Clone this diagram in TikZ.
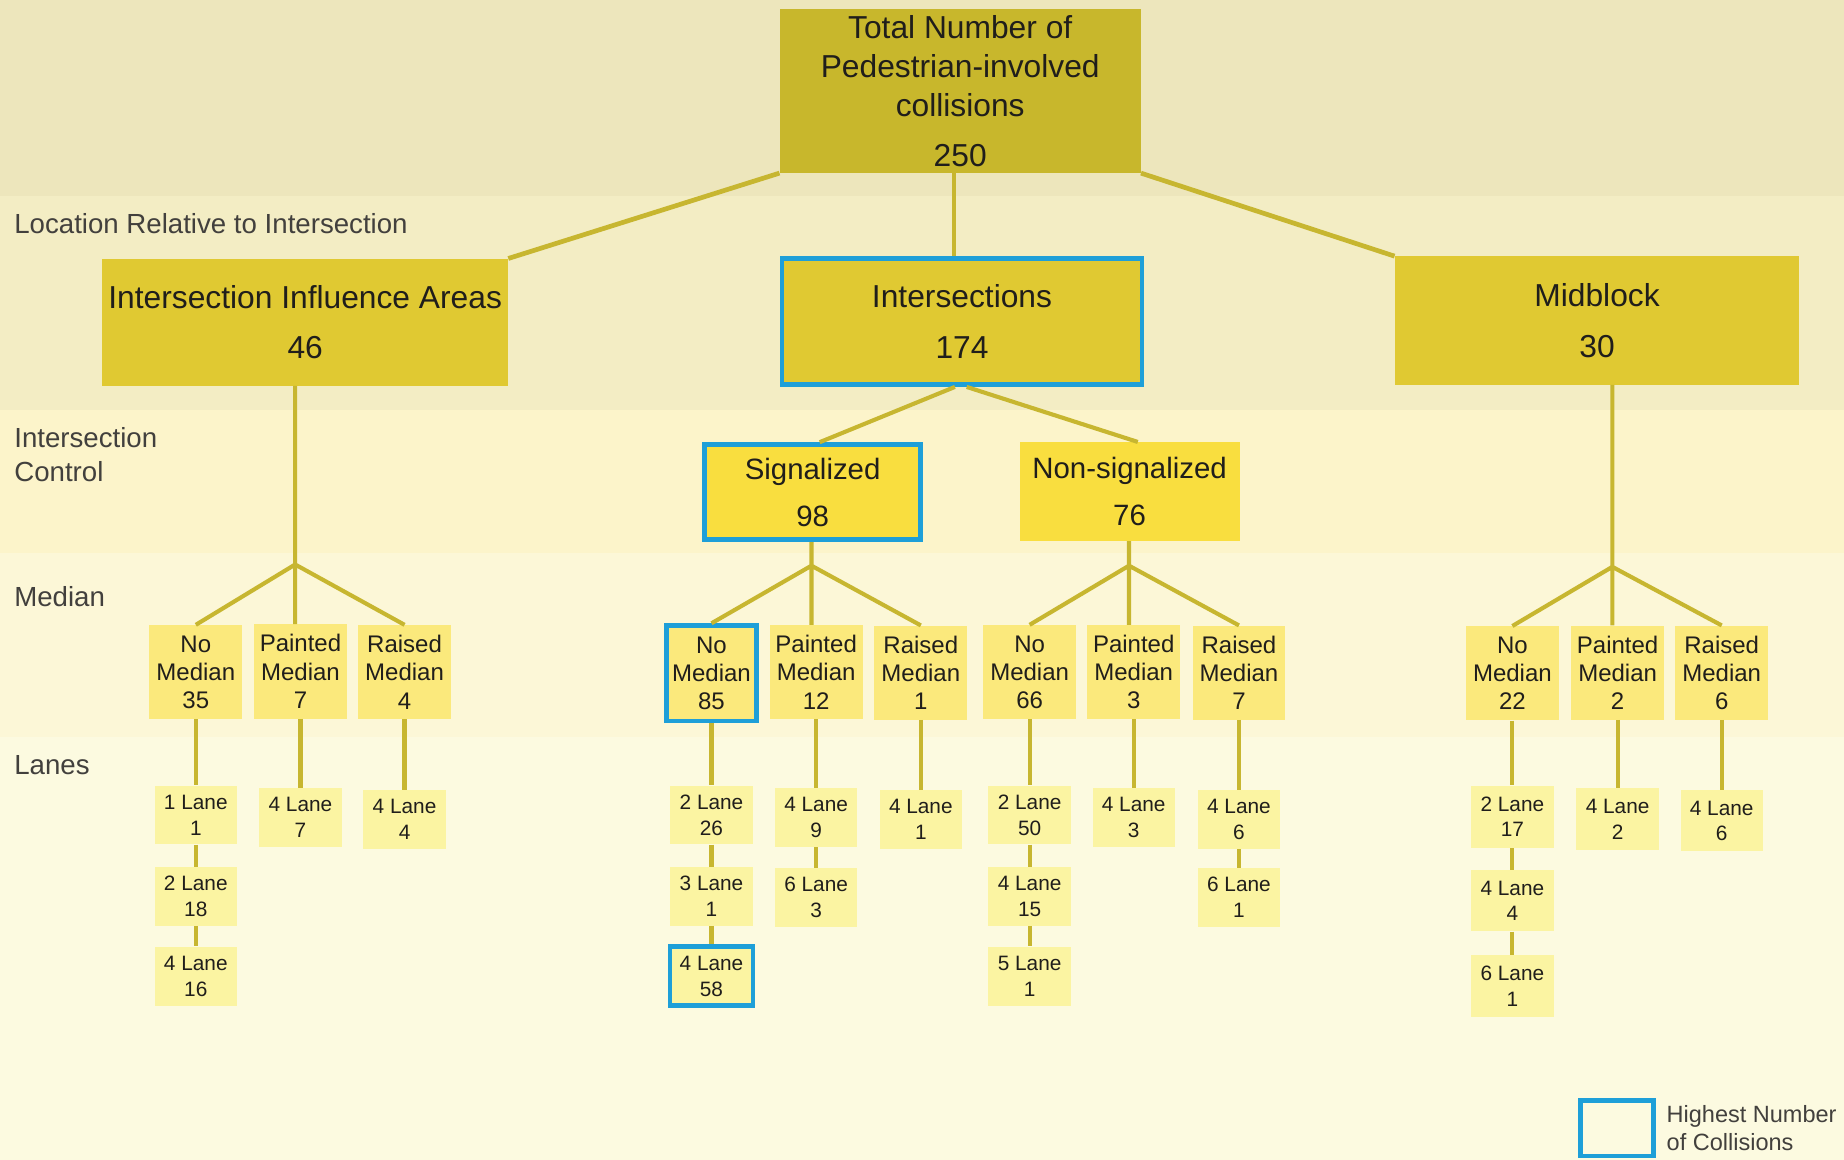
\documentclass[tikz,border=0pt]{standalone}
\usepackage{fontspec}
\setmainfont{Liberation Sans}
\usepackage{xcolor}
\usetikzlibrary{positioning}

\definecolor{bandA}{HTML}{EDE6BC}
\definecolor{bandB}{HTML}{F3EDC4}
\definecolor{bandC}{HTML}{FCF4CA}
\definecolor{bandD}{HTML}{FCF7D7}
\definecolor{bandE}{HTML}{FCFAE0}
\definecolor{totalfill}{HTML}{C8B72C}
\definecolor{locfill}{HTML}{E0C932}
\definecolor{ctrlfill}{HTML}{F9DE3F}
\definecolor{medfill}{HTML}{FBE97C}
\definecolor{lanefill}{HTML}{FBF4A2}
\definecolor{branchcol}{HTML}{C7B630}
\definecolor{highlight}{HTML}{1E9FD8}
\definecolor{ink}{HTML}{201E1B}

\begin{document}
\begin{tikzpicture}[x=1pt, y=-1pt,
		box/.style={rectangle, inner sep=0pt, align=center, text=ink},
		total/.style={box, fill=totalfill, minimum width=307pt, minimum height=139pt, font=\fontsize{27}{33}\selectfont},
		location/.style={box, fill=locfill, minimum height=108pt, font=\fontsize{27}{43}\selectfont},
		control/.style={box, fill=ctrlfill, minimum width=187pt, minimum height=84pt, font=\fontsize{25}{40}\selectfont},
		median/.style={box, fill=medfill, minimum width=79pt, minimum height=80pt, font=\fontsize{20.4}{24}\selectfont},
		lane/.style={box, fill=lanefill, minimum width=70pt, minimum height=50pt, font=\fontsize{17.7}{22}\selectfont},
		most/.style={draw=highlight, line width=4pt},
		branch/.style={draw=branchcol, line width=3.5pt},
		rowlabel/.style={anchor=west, align=left, inner sep=0pt, text=ink!85!white, font=\fontsize{23.5}{29}\selectfont},
		legendtext/.style={anchor=west, align=left, inner sep=0pt, text=ink!85!white, font=\fontsize{20}{24}\selectfont}]
			\useasboundingbox (0,0) rectangle (1568,986);
			\fill[bandA] (0,0) rectangle (1568,166.5);
			\fill[bandB] (0,166.5) rectangle (1568,349);
			\fill[bandC] (0,349) rectangle (1568,470);
			\fill[bandD] (0,470) rectangle (1568,627);
			\fill[bandE] (0,627) rectangle (1568,986);

			\node[rowlabel] (rowloc) at (12,190) {Location Relative to Intersection};
			\node[rowlabel] (rowctrl) at (12,386.5) {Intersection\\Control};
			\node[rowlabel] (rowmed) at (12,507) {Median};
			\node[rowlabel] (rowlane) at (12,651) {Lanes};

			\node[total] (total) at (816.5,77.5) {Total Number of\\Pedestrian-involved\\collisions\\[10pt]250};

			\node[location, minimum width=345pt] (iia) at (259.5,274) {Intersection Influence Areas\\46};
			\node[location, most, minimum width=306pt, minimum height=107pt] (isec) at (818,273.5) {Intersections\\174};
			\node[location, minimum width=344pt, minimum height=109pt] (midblock) at (1358,272.5) {Midblock\\30};

			\node[control, most, minimum width=184pt, minimum height=81pt] (sig) at (691,418.5) {Signalized\\98};
			\node[control] (nonsig) at (960.5,418) {Non-signalized\\76};

			\coordinate (j0) at (811,180);
			\coordinate (j1) at (251,480);
			\coordinate (j2) at (690,481);
			\coordinate (j3) at (960,481);
			\coordinate (j4) at (1371,482);

			\node[median] (nm1) at (166.5,571.5) {No\\Median\\35};
			\node[median] (pm1) at (255.5,571) {Painted\\Median\\7};
			\node[median] (rm1) at (344,571.5) {Raised\\Median\\4};
			\node[median, most, minimum width=77pt, minimum height=81pt] (nm2) at (605,572.5) {No\\Median\\85};
			\node[median] (pm2) at (694,571.5) {Painted\\Median\\12};
			\node[median] (rm2) at (783,572) {Raised\\Median\\1};
			\node[median] (nm3) at (875.5,571.5) {No\\Median\\66};
			\node[median] (pm3) at (964,571.5) {Painted\\Median\\3};
			\node[median] (rm3) at (1053.5,572) {Raised\\Median\\7};
			\node[median] (nm4) at (1286,572.5) {No\\Median\\22};
			\node[median] (pm4) at (1375.5,572) {Painted\\Median\\2};
			\node[median] (rm4) at (1464,572) {Raised\\Median\\6};

			\node[lane] (nm1a) at (166.5,693) {1 Lane\\1};
			\node[lane] (nm1b) at (166.5,762) {2 Lane\\18};
			\node[lane] (nm1c) at (166.5,830) {4 Lane\\16};
			\node[lane] (pm1a) at (255.5,695) {4 Lane\\7};
			\node[lane] (rm1a) at (344,697) {4 Lane\\4};
			\node[lane] (nm2a) at (605,693) {2 Lane\\26};
			\node[lane] (nm2b) at (605,762) {3 Lane\\1};
			\node[lane, most, minimum width=70.5pt] (nm2c) at (605,830) {4 Lane\\58};
			\node[lane] (pm2a) at (694,695) {4 Lane\\9};
			\node[lane] (pm2b) at (694,763) {6 Lane\\3};
			\node[lane] (rm2a) at (783,697) {4 Lane\\1};
			\node[lane] (nm3a) at (875.5,693) {2 Lane\\50};
			\node[lane] (nm3b) at (875.5,762) {4 Lane\\15};
			\node[lane] (nm3c) at (875.5,830) {5 Lane\\1};
			\node[lane] (pm3a) at (964,695) {4 Lane\\3};
			\node[lane] (rm3a) at (1053.5,697) {4 Lane\\6};
			\node[lane] (rm3b) at (1053.5,763) {6 Lane\\1};
			\node[lane, minimum height=53pt] (nm4a) at (1286,694.5) {2 Lane\\17};
			\node[lane, minimum height=52pt] (nm4b) at (1286,766) {4 Lane\\4};
			\node[lane, minimum height=53pt] (nm4c) at (1286,838.5) {6 Lane\\1};
			\node[lane, minimum height=53pt] (pm4a) at (1375.5,696.5) {4 Lane\\2};
			\node[lane, minimum height=52pt] (rm4a) at (1464,698) {4 Lane\\6};

			\draw[branch, line width=4pt] (total.south west) -- (iia.north east);
			\draw[branch] (j0 |- total.south) -- (j0 |- isec.north);
			\draw[branch, line width=4pt] (total.south east) -- (midblock.north west);
			\draw[branch] ([xshift=-6pt]isec.south) -- ([xshift=6pt]sig.north);
			\draw[branch] ([xshift=4pt]isec.south) -- ([xshift=7pt]nonsig.north);

			\draw[branch] (j1 |- iia.south) -- (j1) -- (nm1.north) (j1) -- (j1 |- pm1.north) (j1) -- (rm1.north);
			\draw[branch] (j2 |- sig.south) -- (j2) -- (nm2.north) (j2) -- (j2 |- pm2.north) (j2) -- (rm2.north);
			\draw[branch] (j3 |- nonsig.south) -- (j3) -- (nm3.north) (j3) -- (j3 |- pm3.north) (j3) -- (rm3.north);
			\draw[branch] (j4 |- midblock.south) -- (j4) -- (nm4.north) (j4) -- (j4 |- pm4.north) (j4) -- (rm4.north);

			\draw[branch] (nm1.south) -- (nm1a.north) (nm1a.south) -- (nm1b.north) (nm1b.south) -- (nm1c.north);
			\draw[branch] (pm1.south) -- (pm1a.north);
			\draw[branch] (rm1.south) -- (rm1a.north);
			\draw[branch] (nm2.south) -- (nm2a.north) (nm2a.south) -- (nm2b.north) (nm2b.south) -- (nm2c.north);
			\draw[branch] (pm2.south) -- (pm2a.north) (pm2a.south) -- (pm2b.north);
			\draw[branch] (rm2.south) -- (rm2a.north);
			\draw[branch] (nm3.south) -- (nm3a.north) (nm3a.south) -- (nm3b.north) (nm3b.south) -- (nm3c.north);
			\draw[branch] (pm3.south) -- (pm3a.north);
			\draw[branch] (rm3.south) -- (rm3a.north) (rm3a.south) -- (rm3b.north);
			\draw[branch] (nm4.south) -- (nm4a.north) (nm4a.south) -- (nm4b.north) (nm4b.south) -- (nm4c.north);
			\draw[branch] (pm4.south) -- (pm4a.north);
			\draw[branch] (rm4.south) -- (rm4a.north);

			\node[rectangle, most, minimum width=62pt, minimum height=47pt, inner sep=0pt] (key) at (1375,959.5) {};
			\node[legendtext, right=9pt of key] (keytext) {Highest Number\\of Collisions};
		\end{tikzpicture}
\end{document}
